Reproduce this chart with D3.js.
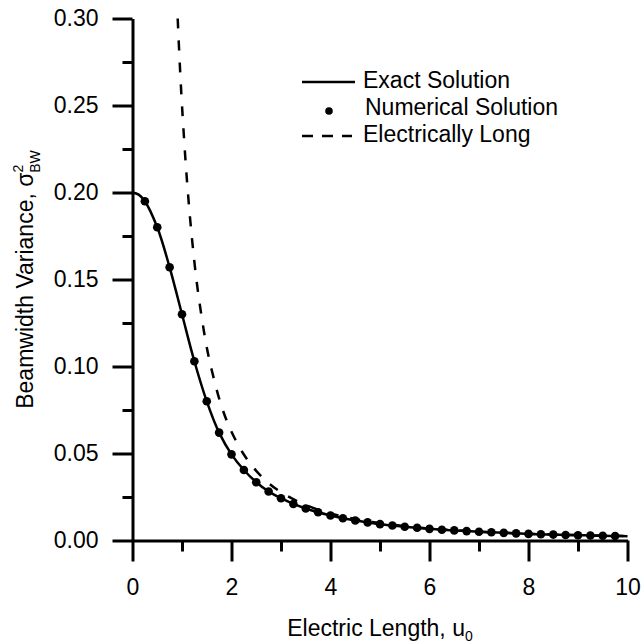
<!DOCTYPE html>
<html>
<head>
<meta charset="utf-8">
<script src="https://cdn.jsdelivr.net/npm/d3@7"></script>
<style>
    body { margin: 0; background: #fff; }
    svg text { font-family: "Liberation Sans", Arial, sans-serif; fill: #000; }
</style>
</head>
<body>
<div id="chart"></div>
<script>
// numerical solution points
var dotU = [0.25, 0.5, 0.75, 1.0, 1.25, 1.5, 1.75, 2.0, 2.25, 2.5, 2.75, 3.0, 3.25, 3.5, 3.75,
    4.0, 4.25, 4.5, 4.75, 5.0, 5.25, 5.5, 5.75, 6.0, 6.25, 6.5, 6.75, 7.0, 7.25, 7.5, 7.75,
    8.0, 8.25, 8.5, 8.75, 9.0, 9.25, 9.5, 9.75];
var dotV = [0.195, 0.180, 0.157, 0.130, 0.103, 0.080, 0.062, 0.0495, 0.0405, 0.0335, 0.0282, 0.0243, 0.0210, 0.0184, 0.0162,
    0.0144, 0.0128, 0.0115, 0.0104, 0.0094, 0.0086, 0.0079, 0.0073, 0.0067, 0.0062, 0.0058, 0.0054, 0.0050, 0.0047, 0.0044, 0.0041,
    0.0038, 0.0036, 0.0034, 0.0032, 0.0030, 0.0029, 0.0027, 0.0026];

// exact solution: ends of the curve beyond the points
var exactHeadU = [0, 0.125];
var exactHeadV = [0.200, 0.1988];
var exactTailU = [10];
var exactTailV = [0.0025];

// electrically long approximation
var longU = [0.913, 0.95, 1.0, 1.1, 1.2, 1.3, 1.4, 1.5, 1.6, 1.8, 2.0, 2.25, 2.5, 2.75, 3.0, 3.5,
    4.0, 4.5, 5.0, 6.0, 7.0, 8.0, 9.0, 10.0];
var longV = [0.300, 0.277, 0.250, 0.207, 0.174, 0.148, 0.128, 0.111, 0.098, 0.077, 0.0625, 0.0494, 0.040, 0.033, 0.0278, 0.0204,
    0.0156, 0.0123, 0.0100, 0.0069, 0.0051, 0.0039, 0.0031, 0.0025];

var xTicks = [0, 2, 4, 6, 8, 10];
var xMinor = [1, 3, 5, 7, 9];
var yTicks = [0, 0.05, 0.10, 0.15, 0.20, 0.25, 0.30];
var yMinor = [0.025, 0.075, 0.125, 0.175, 0.225, 0.275];
var legendLabels = ["Exact Solution", "Numerical Solution", "Electrically Long"];

var width = 641, height = 644;
var x = d3.scaleLinear().domain([0, 10]).range([132.5, 627.5]);
var y = d3.scaleLinear().domain([0, 0.3]).range([540.5, 18.5]);

var svg = d3.select("#chart")
    .append("svg")
    .attr("width", width)
    .attr("height", height);

var exactPts = [];
exactHeadU.forEach(function (u, i) { exactPts.push([u, exactHeadV[i]]); });
dotU.forEach(function (u, i) { exactPts.push([u, dotV[i]]); });
exactTailU.forEach(function (u, i) { exactPts.push([u, exactTailV[i]]); });

var longPts = longU.map(function (u, i) { return [u, longV[i]]; });

var line = d3.line()
    .x(function (d) { return x(d[0]); })
    .y(function (d) { return y(d[1]); })
    .curve(d3.curveCatmullRom);

svg.append("path")
    .datum(longPts)
    .attr("d", line)
    .attr("fill", "none")
    .attr("stroke", "#000")
    .attr("stroke-width", 2.5)
    .attr("stroke-dasharray", "10,12");

svg.append("path")
    .datum(exactPts)
    .attr("d", line)
    .attr("fill", "none")
    .attr("stroke", "#000")
    .attr("stroke-width", 2.5);

svg.selectAll(".dots")
    .data(dotU)
    .enter()
    .append("circle")
    .attr("class", "dots")
    .attr("cx", function (d) { return x(d); })
    .attr("cy", function (d, i) { return y(dotV[i]); })
    .attr("r", 4.3)
    .attr("fill", "#000");

// axes
var xAxis = svg.append("g")
    .attr("transform", "translate(0," + y(0) + ")")
    .call(d3.axisBottom(x).tickValues(xTicks).tickSize(21).tickSizeOuter(0).tickPadding(17)
        .tickFormat(d3.format("d")));
var xAxisMinor = svg.append("g")
    .attr("transform", "translate(0," + y(0) + ")")
    .call(d3.axisBottom(x).tickValues(xMinor).tickSize(11).tickFormat(""));
xAxisMinor.select(".domain").remove();

var yAxis = svg.append("g")
    .attr("transform", "translate(" + x(0) + ",0)")
    .call(d3.axisLeft(y).tickValues(yTicks).tickSize(20).tickSizeOuter(0).tickPadding(14)
        .tickFormat(d3.format(".2f")));
var yAxisMinor = svg.append("g")
    .attr("transform", "translate(" + x(0) + ",0)")
    .call(d3.axisLeft(y).tickValues(yMinor).tickSize(10).tickFormat(""));
yAxisMinor.select(".domain").remove();

svg.selectAll(".domain, .tick line")
    .style("stroke", "#000")
    .style("stroke-width", "3px");
svg.selectAll(".tick text")
    .style("font-size", "23px")
    .attr("fill", "#000");

// axis titles
var xTitle = svg.append("text")
    .attr("x", (x(0) + x(10)) / 2)
    .attr("y", 636)
    .attr("text-anchor", "middle")
    .style("font-size", "23px")
    .text("Electric Length, u");
xTitle.append("tspan")
    .attr("dy", 5)
    .style("font-size", "14px")
    .text("0");

var yTitle = svg.append("text")
    .attr("transform", "translate(33," + ((y(0) + y(0.3)) / 2) + ") rotate(-90)")
    .attr("text-anchor", "middle")
    .style("font-size", "23px")
    .text("Beamwidth Variance, \u03c3");
yTitle.append("tspan")
    .attr("dy", -10)
    .style("font-size", "14px")
    .text("2");
yTitle.append("tspan")
    .attr("dx", -8)
    .attr("dy", 17)
    .style("font-size", "14px")
    .text("BW");

// legend
var legend = svg.append("g").attr("class", "legend");
legendLabels.forEach(function (label, i) {
    var ly = 82 + i * 27;
    if (i === 0) {
        legend.append("line")
            .attr("x1", 302).attr("x2", 355)
            .attr("y1", ly).attr("y2", ly)
            .attr("stroke", "#000").attr("stroke-width", 2.5);
    } else if (i === 1) {
        legend.append("circle")
            .attr("cx", 329).attr("cy", ly + 2)
            .attr("r", 3.8).attr("fill", "#000");
    } else {
        legend.append("line")
            .attr("x1", 302).attr("x2", 352)
            .attr("y1", ly).attr("y2", ly)
            .attr("stroke", "#000").attr("stroke-width", 2.5)
            .attr("stroke-dasharray", "11,9");
    }
    legend.append("text")
        .attr("x", i === 1 ? 365 : 363)
        .attr("y", ly + 6)
        .style("font-size", "23px")
        .text(label);
});
</script>
</body>
</html>
